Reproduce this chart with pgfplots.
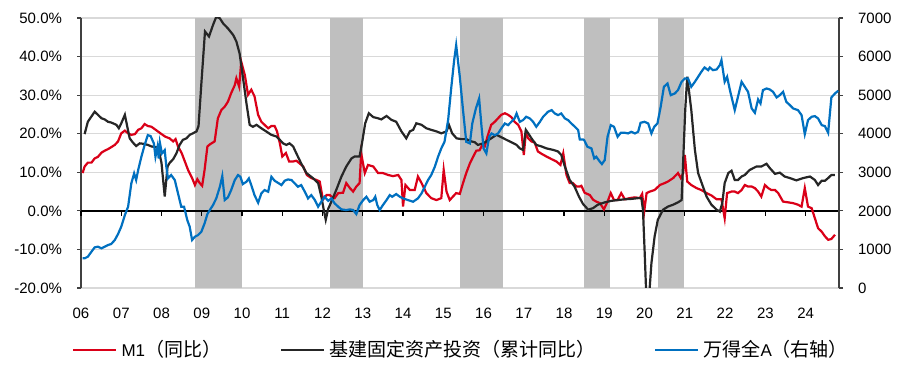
\documentclass[border=0pt]{standalone}
\usepackage{pgfplots}
\pgfplotsset{compat=1.18}
\usepackage{fontspec}
\setmainfont{Liberation Sans}
\newfontfamily\cjk{Noto Sans CJK SC}
\definecolor{cred}{RGB}{218,0,24}
\definecolor{cblack}{RGB}{38,38,38}
\definecolor{cblue}{RGB}{0,112,192}
\definecolor{shadec}{RGB}{191,191,191}
\definecolor{gridc}{RGB}{217,217,217}
\definecolor{axc}{RGB}{64,64,64}
\begin{document}
\begin{tikzpicture}
\useasboundingbox (-40.5pt,-40.5pt) rectangle (409.5pt,144pt);
\pgfplotsset{
  base/.style={scale only axis, width=379pt, height=135pt, xmin=2005.96, xmax=2024.79,
    at={(0pt,0pt)}, anchor=south west,
    /pgf/number format/assume math mode=true,
    tick label style={font=\fontsize{7.5}{9}\selectfont},
    xtick={2005.96,2006.96,2007.96,2008.96,2009.96,2010.96,2011.96,2012.96,2013.96,2014.96,2015.96,2016.96,2017.96,2018.96,2019.96,2020.96,2021.96,2022.96,2023.96}},
}
% ---------- axis 1: grid, shades, left labels, year labels
\begin{axis}[base, ymin=-20, ymax=50, ytick={-20,-10,...,50},
  ymajorgrids, grid style={gridc, line width=0.6pt},
  axis y line*=left, axis x line*=bottom,
  x axis line style={draw=none}, xtick style={draw=none},
  y axis line style={axc, line width=0.6pt}, ytick style={axc, line width=0.6pt},
  tick align=outside, major tick length=2pt,
  yticklabel={\pgfmathprintnumber[fixed,fixed zerofill,precision=1]{\tick}\%},
  yticklabel style={xshift=-4pt},
  xticklabels={06,07,08,09,10,11,12,13,14,15,16,17,18,19,20,21,22,23,24},
  xticklabel style={yshift=-4.5pt},
]
\addplot[fill=shadec, draw=none] coordinates {(2008.80,-20) (2008.80,50) (2009.96,50) (2009.96,-20)};
\addplot[fill=shadec, draw=none] coordinates {(2012.14,-20) (2012.14,50) (2012.97,50) (2012.97,-20)};
\addplot[fill=shadec, draw=none] coordinates {(2015.38,-20) (2015.38,50) (2016.44,50) (2016.44,-20)};
\addplot[fill=shadec, draw=none] coordinates {(2018.46,-20) (2018.46,50) (2019.11,50) (2019.11,-20)};
\addplot[fill=shadec, draw=none] coordinates {(2020.29,-20) (2020.29,50) (2020.94,50) (2020.94,-20)};
\end{axis}
% ---------- axis 2: zero line, red and black
\begin{axis}[base, ymin=-20, ymax=50,
  axis x line*=middle, axis y line=none,
  xticklabels={}, tick align=outside, major tick length=2.5pt,
  x axis line style={black, line width=0.7pt}, xtick style={black, line width=0.6pt},
]
\addplot[cred, line width=1.1pt] coordinates {
(2006.00,9.8) (2006.05,11.5) (2006.13,12.5) (2006.22,12.5) (2006.30,13.6) (2006.38,14.0)
(2006.47,15.1) (2006.55,15.6) (2006.63,16.0) (2006.71,16.5) (2006.80,17.1) (2006.88,18.0)
(2006.96,20.1) (2007.05,20.8) (2007.13,20.1) (2007.21,19.7) (2007.30,19.9) (2007.38,21.0)
(2007.46,21.4) (2007.54,22.5) (2007.62,22.0) (2007.71,21.8) (2007.83,20.9) (2007.96,19.9)
(2008.06,19.2) (2008.16,18.8) (2008.25,18.0) (2008.31,18.6) (2008.37,16.7) (2008.46,15.0)
(2008.54,12.8) (2008.62,10.6) (2008.72,8.5) (2008.79,6.7) (2008.85,8.2) (2008.91,7.2)
(2008.97,6.5) (2009.03,10.6) (2009.10,16.7) (2009.17,17.3) (2009.28,18.0) (2009.36,24.0)
(2009.45,26.2) (2009.53,27.0) (2009.61,28.3) (2009.69,30.5) (2009.78,32.6) (2009.82,34.4)
(2009.89,32.2) (2009.94,38.7) (2010.03,35.2) (2010.11,30.1) (2010.19,31.4) (2010.27,29.7)
(2010.36,24.9) (2010.44,23.1) (2010.52,22.3) (2010.61,21.4) (2010.69,22.0) (2010.77,22.0)
(2010.83,20.6) (2010.90,17.5) (2010.96,14.1) (2011.05,15.0) (2011.13,12.8) (2011.23,12.8)
(2011.31,13.0) (2011.39,12.3) (2011.48,11.5) (2011.57,9.3) (2011.68,8.5) (2011.81,8.0)
(2011.89,7.6) (2011.97,2.9) (2012.06,4.1) (2012.14,4.1) (2012.18,3.7) (2012.26,3.3)
(2012.35,4.6) (2012.47,4.7) (2012.55,7.2) (2012.64,5.9) (2012.72,5.0) (2012.80,6.3)
(2012.88,7.2) (2012.92,14.9) (2013.01,9.8) (2013.09,11.9) (2013.22,11.5) (2013.34,9.8)
(2013.46,9.8) (2013.59,9.3) (2013.71,9.0) (2013.84,9.3) (2013.92,8.0) (2013.96,1.1)
(2014.02,6.7) (2014.13,5.4) (2014.25,5.4) (2014.33,8.9) (2014.42,7.2) (2014.54,4.6)
(2014.66,3.3) (2014.79,2.8) (2014.91,3.3) (2014.97,10.6) (2015.04,5.0) (2015.12,2.8)
(2015.20,3.7) (2015.28,4.6) (2015.37,4.4) (2015.45,7.2) (2015.53,9.8) (2015.62,12.3)
(2015.70,14.0) (2015.78,15.6) (2015.86,15.7) (2015.93,17.1) (2015.99,16.7) (2016.07,19.7)
(2016.15,22.3) (2016.24,23.1) (2016.32,24.0) (2016.40,24.9) (2016.49,25.3) (2016.57,24.9)
(2016.65,24.3) (2016.73,23.1) (2016.82,22.3) (2016.90,20.6) (2016.96,14.5) (2017.01,20.2)
(2017.07,18.8) (2017.15,18.0) (2017.23,17.7) (2017.31,15.4) (2017.40,14.8) (2017.52,14.1)
(2017.65,13.4) (2017.77,12.8) (2017.87,11.9) (2017.94,14.9) (2018.02,9.3) (2018.10,7.2)
(2018.18,7.2) (2018.27,6.3) (2018.35,6.3) (2018.39,6.5) (2018.47,4.7) (2018.60,4.1)
(2018.68,2.9) (2018.76,2.4) (2018.85,2.0) (2018.95,0.4) (2019.04,2.4) (2019.12,4.6)
(2019.20,2.8) (2019.29,2.8) (2019.38,4.6) (2019.47,3.0) (2019.59,3.3) (2019.72,3.5)
(2019.84,3.3) (2019.90,4.4) (2019.95,-0.2) (2020.01,4.6) (2020.09,5.0) (2020.21,5.4)
(2020.34,6.7) (2020.46,7.2) (2020.54,7.6) (2020.67,8.5) (2020.79,9.8) (2020.86,8.5)
(2020.92,9.8) (2020.96,14.5) (2021.02,7.6) (2021.12,6.7) (2021.25,5.9) (2021.37,5.4)
(2021.50,4.6) (2021.62,4.0) (2021.75,3.0) (2021.87,3.0) (2021.95,-1.9) (2022.01,4.6)
(2022.12,5.0) (2022.20,5.0) (2022.28,4.6) (2022.37,5.4) (2022.45,6.7) (2022.53,6.3)
(2022.62,6.3) (2022.70,5.9) (2022.78,5.0) (2022.86,3.7) (2022.95,6.7) (2023.03,5.9)
(2023.11,5.4) (2023.20,5.4) (2023.28,4.6) (2023.40,2.4) (2023.53,2.2) (2023.65,2.0)
(2023.77,1.6) (2023.86,1.1) (2023.94,5.9) (2024.02,1.1) (2024.11,0.7) (2024.19,-1.9)
(2024.27,-4.5) (2024.36,-5.4) (2024.44,-6.6) (2024.52,-7.5) (2024.60,-7.3) (2024.69,-6.2)
};
\addplot[cblack, line width=1.1pt] coordinates {
(2006.05,19.9) (2006.13,23.1) (2006.30,25.7) (2006.38,24.9) (2006.47,24.0) (2006.55,23.7)
(2006.63,23.1) (2006.71,22.9) (2006.84,22.3) (2006.90,21.4) (2006.96,22.7) (2007.05,24.9)
(2007.11,21.8) (2007.17,18.8) (2007.25,17.7) (2007.33,16.8) (2007.42,17.5) (2007.50,17.4)
(2007.62,17.1) (2007.71,16.7) (2007.83,16.5) (2007.89,15.8) (2007.96,12.4) (2008.04,3.7)
(2008.11,11.5) (2008.16,12.4) (2008.25,13.4) (2008.33,14.9) (2008.41,17.1) (2008.49,18.4)
(2008.58,18.8) (2008.66,19.7) (2008.74,20.1) (2008.83,20.6) (2008.88,22.0) (2008.95,33.0)
(2009.04,46.5) (2009.14,45.2) (2009.24,48.2) (2009.32,50.3) (2009.41,49.9) (2009.49,48.6)
(2009.61,47.3) (2009.74,45.6) (2009.82,43.9) (2009.90,40.8) (2009.98,34.8) (2010.07,27.9)
(2010.15,22.3) (2010.23,21.8) (2010.32,22.3) (2010.44,21.4) (2010.56,20.6) (2010.69,19.7)
(2010.81,19.3) (2010.90,18.4) (2010.98,17.5) (2011.06,17.1) (2011.14,17.5) (2011.23,16.7)
(2011.31,14.9) (2011.43,12.3) (2011.56,9.8) (2011.72,8.5) (2011.85,7.2) (2011.93,3.7)
(2011.99,0.3) (2012.04,-2.3) (2012.10,0.5) (2012.18,2.4) (2012.30,5.4) (2012.43,8.9)
(2012.55,11.5) (2012.68,13.6) (2012.76,14.1) (2012.88,14.1) (2012.94,17.5) (2013.02,22.7)
(2013.11,25.3) (2013.22,24.3) (2013.34,24.0) (2013.42,23.7) (2013.55,24.6) (2013.67,23.6)
(2013.79,23.1) (2013.92,20.6) (2014.04,18.8) (2014.13,20.6) (2014.21,21.0) (2014.29,22.7)
(2014.42,22.3) (2014.54,21.4) (2014.66,21.0) (2014.79,20.6) (2014.91,20.1) (2015.04,20.6)
(2015.10,22.3) (2015.18,20.1) (2015.29,18.8) (2015.41,18.6) (2015.53,18.6) (2015.66,18.0)
(2015.74,17.8) (2015.82,17.1) (2015.95,17.5) (2016.03,18.0) (2016.15,18.8) (2016.28,19.7)
(2016.40,19.1) (2016.53,18.4) (2016.65,17.8) (2016.78,17.1) (2016.86,16.2) (2016.94,15.8)
(2017.01,21.0) (2017.07,20.1) (2017.15,18.8) (2017.27,17.1) (2017.40,16.7) (2017.52,16.2)
(2017.69,15.8) (2017.81,15.4) (2017.89,14.5) (2017.98,11.5) (2018.10,8.0) (2018.22,6.3)
(2018.33,3.7) (2018.43,1.8) (2018.56,0.3) (2018.68,0.7) (2018.80,1.6) (2018.97,2.2)
(2019.14,2.6) (2019.30,2.8) (2019.47,3.0) (2019.63,3.1) (2019.80,3.3) (2019.88,3.3)
(2019.92,0.3) (2019.96,-10.1) (2020.01,-24.0) (2020.06,-24.0) (2020.13,-13.6) (2020.21,-6.6)
(2020.29,-2.3) (2020.42,0.3) (2020.54,1.1) (2020.67,1.6) (2020.79,2.2) (2020.88,2.8)
(2020.92,13.2) (2020.97,26.2) (2021.02,34.8) (2021.12,26.2) (2021.21,15.8) (2021.29,9.8)
(2021.41,6.3) (2021.50,3.7) (2021.62,1.6) (2021.75,0.3) (2021.83,-0.2) (2021.89,2.0)
(2021.95,7.2) (2022.04,9.8) (2022.12,10.4) (2022.20,8.0) (2022.28,8.0) (2022.37,8.9)
(2022.45,9.3) (2022.57,10.6) (2022.74,11.5) (2022.86,11.5) (2022.99,12.2) (2023.07,11.1)
(2023.20,9.6) (2023.32,9.9) (2023.44,8.9) (2023.57,8.5) (2023.73,7.9) (2023.90,8.5)
(2024.07,8.9) (2024.19,8.0) (2024.27,6.7) (2024.36,7.8) (2024.44,7.8) (2024.52,8.5)
(2024.60,9.3) (2024.69,9.3)
};
\end{axis}
% ---------- axis 3: right axis, blue, legend
\begin{axis}[base, ymin=0, ymax=7000, ytick={0,1000,...,7000},
  axis y line*=right, axis x line=none,
  tick align=outside, major tick length=2pt,
  y axis line style={axc, line width=0.6pt}, ytick style={axc, line width=0.6pt},
  /pgf/number format/1000 sep={},
  yticklabel style={xshift=4pt},
  legend columns=3,
  legend image code/.code={\draw[#1] (0pt,0pt) -- (21.5pt,0pt);},
  legend style={draw=none, fill=none, inner sep=0pt, at={(-0.012,-0.23)}, anchor=west,
    font=\fontsize{9.5}{11}\selectfont,
    /tikz/every even column/.append style={column sep=27.5pt}},
]
\addlegendimage{cred, line width=1.1pt}
\addlegendentry{{\fontsize{8.5}{10}\selectfont M1}\cjk（同比）}
\addlegendimage{cblack, line width=1.1pt}
\addlegendentry{\cjk 基建固定资产投资（累计同比）}
\addplot[cblue, line width=1.1pt] coordinates {
(2006.00,769) (2006.05,769) (2006.13,812) (2006.22,941) (2006.30,1054) (2006.38,1071)
(2006.47,1028) (2006.55,1071) (2006.63,1114) (2006.71,1140) (2006.80,1244) (2006.88,1399)
(2006.96,1589) (2007.05,1891) (2007.13,2107) (2007.21,2712) (2007.28,2971) (2007.33,2798)
(2007.38,3057) (2007.46,3403) (2007.54,3705) (2007.62,3964) (2007.69,3938) (2007.77,3748)
(2007.81,3403) (2007.86,3662) (2007.89,3359) (2007.92,3765) (2007.97,3489) (2008.04,3575)
(2008.08,3144) (2008.12,2841) (2008.20,2928) (2008.29,2798) (2008.37,2453) (2008.45,2107)
(2008.52,2107) (2008.60,1762) (2008.66,1589) (2008.72,1244) (2008.79,1330) (2008.87,1373)
(2008.95,1459) (2009.03,1675) (2009.10,1917) (2009.16,2021) (2009.24,2150) (2009.32,2323)
(2009.41,2625) (2009.47,2902) (2009.53,2280) (2009.61,2350) (2009.69,2539) (2009.78,2798)
(2009.86,2928) (2009.92,2884) (2009.98,2694) (2010.07,2755) (2010.13,2841) (2010.19,2668)
(2010.27,2409) (2010.36,2211) (2010.44,2453) (2010.52,2539) (2010.61,2496) (2010.69,2884)
(2010.77,2781) (2010.85,2729) (2010.94,2668) (2011.02,2781) (2011.10,2815) (2011.19,2798)
(2011.27,2712) (2011.35,2625) (2011.43,2668) (2011.52,2496) (2011.60,2323) (2011.68,2409)
(2011.77,2280) (2011.85,2107) (2011.93,2237) (2012.01,2366) (2012.10,2260) (2012.18,2323)
(2012.26,2194) (2012.35,2107) (2012.43,2038) (2012.55,2021) (2012.64,2038) (2012.72,2021)
(2012.80,1917) (2012.88,2150) (2012.97,2280) (2013.05,2366) (2013.13,2237) (2013.22,2280)
(2013.27,2366) (2013.32,2150) (2013.38,2021) (2013.46,2150) (2013.55,2280) (2013.63,2409)
(2013.69,2366) (2013.79,2435) (2013.88,2366) (2013.96,2323) (2014.08,2280) (2014.21,2237)
(2014.33,2323) (2014.42,2453) (2014.50,2625) (2014.58,2798) (2014.66,2928) (2014.75,3144)
(2014.83,3403) (2014.91,3619) (2014.99,3791) (2015.08,4353) (2015.16,5216) (2015.23,5907)
(2015.28,6296) (2015.37,5475) (2015.45,4612) (2015.53,3791) (2015.62,3748) (2015.68,4266)
(2015.77,4655) (2015.85,4914) (2015.91,4180) (2015.96,3619) (2016.03,3489) (2016.10,3921)
(2016.16,4007) (2016.24,3964) (2016.32,4007) (2016.40,4137) (2016.49,4266) (2016.57,4223)
(2016.65,4309) (2016.73,4396) (2016.78,4525) (2016.86,4309) (2016.94,4353) (2017.02,4439)
(2017.11,4396) (2017.19,4309) (2017.27,4180) (2017.36,4309) (2017.44,4439) (2017.56,4568)
(2017.65,4612) (2017.73,4525) (2017.81,4482) (2017.89,4525) (2017.98,4396) (2018.06,4353)
(2018.14,4266) (2018.23,4180) (2018.31,4094) (2018.35,3852) (2018.43,3852) (2018.46,3834)
(2018.54,3662) (2018.64,3619) (2018.71,3359) (2018.76,3403) (2018.85,3273) (2018.90,3213)
(2018.97,3316) (2019.04,3921) (2019.12,4223) (2019.20,4180) (2019.29,3921) (2019.37,4024)
(2019.47,4024) (2019.55,4007) (2019.63,4050) (2019.72,4007) (2019.80,4050) (2019.86,4283)
(2019.96,4309) (2020.05,4266) (2020.13,4007) (2020.20,4180) (2020.28,4266) (2020.36,4698)
(2020.44,5216) (2020.53,5302) (2020.61,4999) (2020.71,5043) (2020.79,5130) (2020.88,5346)
(2020.96,5432) (2021.04,5432) (2021.12,5216) (2021.21,5346) (2021.29,5475) (2021.37,5605)
(2021.45,5717) (2021.54,5648) (2021.58,5717) (2021.66,5648) (2021.75,5666) (2021.83,5778)
(2021.87,5907) (2021.95,5346) (2022.01,5475) (2022.08,5130) (2022.14,4870) (2022.20,4612)
(2022.28,4957) (2022.37,5346) (2022.45,5216) (2022.53,5087) (2022.62,4655) (2022.70,4543)
(2022.78,4889) (2022.84,4784) (2022.90,5130) (2022.99,5173) (2023.07,5147) (2023.15,5087)
(2023.24,4940) (2023.32,5000) (2023.40,5087) (2023.48,4827) (2023.57,4741) (2023.65,4655)
(2023.77,4612) (2023.86,4482) (2023.94,3990) (2024.02,4353) (2024.11,4439) (2024.19,4456)
(2024.27,4396) (2024.36,4223) (2024.44,4197) (2024.52,4024) (2024.60,4940) (2024.69,5043)
(2024.77,5113)
};
\addlegendentry{{\cjk 万得全}{\fontsize{8.5}{10}\selectfont A}{\cjk（右轴）}}
\end{axis}
\end{tikzpicture}
\end{document}
